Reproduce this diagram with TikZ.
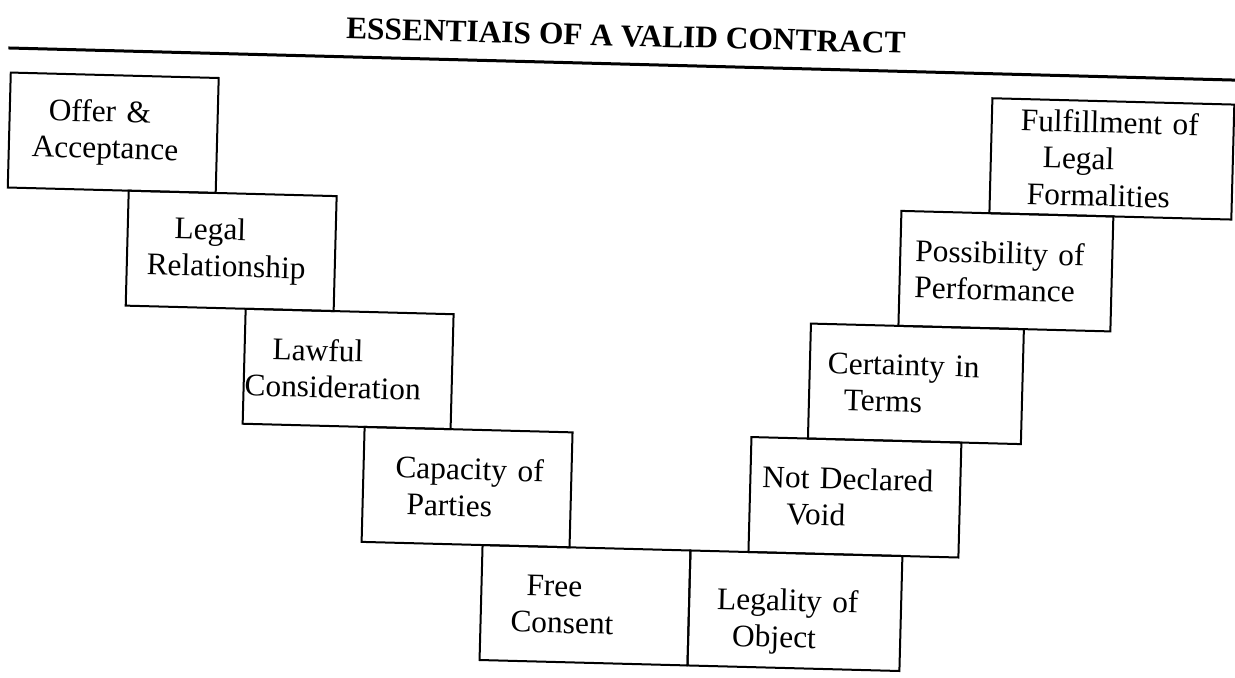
\documentclass[tikz,border=0pt]{standalone}
\usepackage{fontspec}
\setmainfont{Liberation Serif}
\newcommand\boxfont{\fontsize{15.7}{18.3}\selectfont}
\newcommand\ind[1]{\hspace*{#1pt}}
\begin{document}
\begin{tikzpicture}[x=0.5pt,y=-0.5pt,
  stepbox/.style={draw, line width=1pt, rectangle, inner xsep=0pt, inner ysep=0pt,
    minimum height=57.5pt, text width=104pt, align=left, font=\boxfont, transform shape},
  titletext/.style={font=\fontsize{15.7}{18}\selectfont\bfseries, anchor=base,
    inner sep=0pt, transform shape},
  rulestyle/.style={line width=1.5pt}]
\useasboundingbox (0,0) rectangle (1235,677);
\begin{scope}[rotate around={-1.5:(617.5,338.5)}]
  % title and rule
  \node[titletext] (title) at (618,46) {ESSENTIAIS OF A VALID CONTRACT};
  \coordinate (ruleL) at (1,64);
  \coordinate (ruleR) at (1250,64);
  \draw[rulestyle] (ruleL) -- (ruleR);
  % left staircase
  \node[stepbox] (offer) at (108,146) {\ind{19.5}Offer \&\\\ind{11.5}Acceptance};
  \node[stepbox] (legal) at (229,261) {\ind{23.5}Legal\\\ind{10}Relationship};
  \node[stepbox] (lawful) at (349,376) {\ind{14}Lawful\\\ind{0.5}Consideration};
  \node[stepbox] (capacity) at (471,491) {\ind{16}Capacity of\\\ind{22}Parties};
  \node[stepbox] (free) at (592,606) {\ind{22.5}Free\\\ind{15}Consent};
  % right staircase
  \node[stepbox, text width=106pt] (legality) at (802,606) {\rule{0pt}{22pt}\ind{14}Legality of\\\ind{22}Object};
  \node[stepbox, text width=105pt] (notdecl) at (859,491) {\ind{6}Not Declared\\\ind{18.5}Void};
  \node[stepbox, text width=106.5pt] (certainty) at (917,376) {\ind{9}Certainty in\\\ind{17.5}Terms};
  \node[stepbox, text width=106pt] (possib) at (1004,261) {\ind{7.5}Possibility of\\\ind{7.5}Performance};
  \node[stepbox, text width=121pt] (fulfil) at (1107,146) {\ind{14.5}Fulfillment of\\\ind{26}Legal\\\ind{18.5}Formalities};
\end{scope}
\end{tikzpicture}
\end{document}
